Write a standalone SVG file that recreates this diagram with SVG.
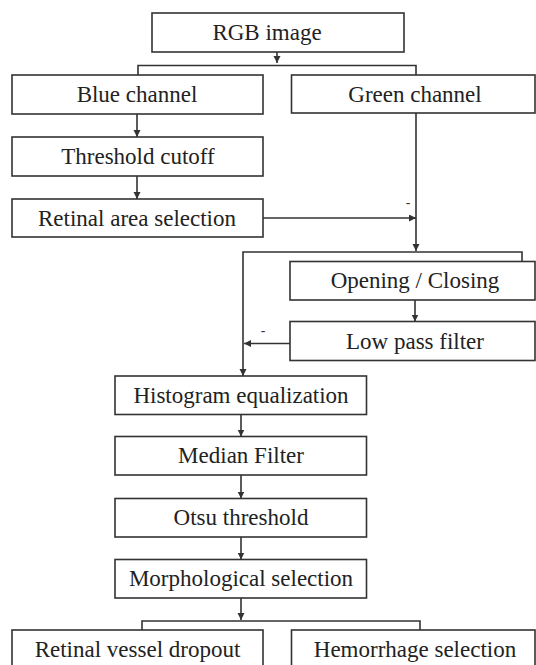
<svg xmlns="http://www.w3.org/2000/svg" width="536" height="665" viewBox="0 0 536 665">
<style>
.box{fill:#fff;stroke:#333;stroke-width:1.6}
.lbl{font-family:"Liberation Serif","Times New Roman",serif;font-size:23px;fill:#222;text-anchor:middle}
.ln{fill:none;stroke:#333;stroke-width:1.6}
.ar{marker-end:url(#ah)}
.mn{font-family:"Liberation Sans",Arial,sans-serif;font-size:14px;fill:#333;text-anchor:middle}
</style>
<defs>
<marker id="ah" markerUnits="userSpaceOnUse" markerWidth="8" markerHeight="8" refX="7" refY="3.5" orient="auto">
<path d="M0,0 L7,3.5 L0,7 z" fill="#333"/>
</marker>
</defs>
<rect width="536" height="665" fill="#fff"/>
<g id="connectors">
<path class="ln ar" d="M277,52 V63"/>
<path class="ln" d="M138,75 V65.5 H416 V75"/>
<path class="ln ar" d="M137,114 V137"/>
<path class="ln ar" d="M137,176 V199"/>
<path class="ln ar" d="M263,218 H416"/>
<path class="ln ar" d="M416,113 V251"/>
<path class="ln ar" d="M522,261.5 V252 H243 V376"/>
<path class="ln ar" d="M415,300 V321.5"/>
<path class="ln ar" d="M290,343.5 H244"/>
<path class="ln ar" d="M241,414.5 V436.5"/>
<path class="ln ar" d="M241,475 V498.5"/>
<path class="ln ar" d="M241,537 V559.5"/>
<path class="ln ar" d="M241,598 V620"/>
<path class="ln" d="M142,630 V621 H420 V630"/>
<text class="mn" x="408" y="208">-</text>
<text class="mn" x="263" y="336">-</text>
</g>
<g id="rgb"><rect class="box" x="152" y="13" width="252" height="39"/><text class="lbl" x="267" y="40">RGB image</text></g>
<g id="blue"><rect class="box" x="12" y="75" width="251" height="39"/><text class="lbl" x="137" y="102">Blue channel</text></g>
<g id="green"><rect class="box" x="291.5" y="75" width="243.5" height="38"/><text class="lbl" x="415" y="101.5">Green channel</text></g>
<g id="threshold"><rect class="box" x="12" y="137" width="251" height="39"/><text class="lbl" x="138" y="164">Threshold cutoff</text></g>
<g id="retinal-area"><rect class="box" x="12" y="199" width="251" height="38"/><text class="lbl" x="137" y="225.5">Retinal area selection</text></g>
<g id="opening"><rect class="box" x="290" y="261.5" width="245" height="38.5"/><text class="lbl" x="415" y="288">Opening / Closing</text></g>
<g id="lowpass"><rect class="box" x="290" y="321.5" width="245" height="39"/><text class="lbl" x="415" y="348.5">Low pass filter</text></g>
<g id="histogram"><rect class="box" x="115" y="376" width="251.5" height="38.5"/><text class="lbl" x="241" y="403">Histogram equalization</text></g>
<g id="median"><rect class="box" x="115" y="436.5" width="251.5" height="38.5"/><text class="lbl" x="241" y="463">Median Filter</text></g>
<g id="otsu"><rect class="box" x="115" y="498.5" width="251.5" height="38.5"/><text class="lbl" x="241" y="525">Otsu threshold</text></g>
<g id="morph"><rect class="box" x="115" y="559.5" width="251.5" height="38.5"/><text class="lbl" x="241" y="586">Morphological selection</text></g>
<g id="vessel"><rect class="box" x="12" y="630" width="251" height="50"/><text class="lbl" x="137.5" y="656.5">Retinal vessel dropout</text></g>
<g id="hemorrhage"><rect class="box" x="291.5" y="630" width="243.5" height="50"/><text class="lbl" x="415" y="656.5">Hemorrhage selection</text></g>
</svg>
